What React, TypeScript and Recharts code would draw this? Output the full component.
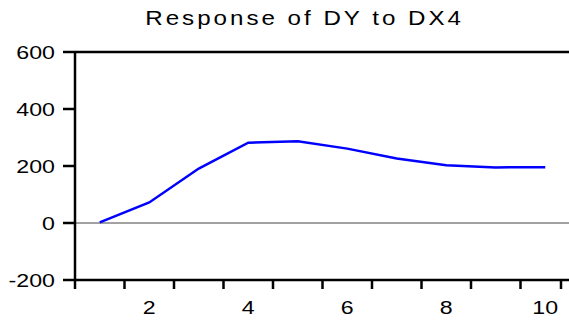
import { LineChart, Line, XAxis, YAxis, ReferenceLine } from "recharts";

// impulse response, periods 1..10
const periods = [1, 2, 3, 4, 5, 6, 7, 8, 9, 10];
const response = [2, 72, 191, 282, 287, 261, 226, 203, 195, 196];

const yTicks = [-200, 0, 200, 400, 600];
const boundaryTicks = [0.5, 1.5, 2.5, 3.5, 4.5, 5.5, 6.5, 7.5, 8.5, 9.5, 10.5];
const labelTicks = [2, 4, 6, 8, 10];

const FONT = '"Liberation Sans", Arial, sans-serif';

const YTick = ({ x, y, payload }: any) => (
  <g transform={`translate(${x},${y}) scale(1.22,1)`}>
    <text x={0} y={0} dy="0.36em" textAnchor="end" fontSize={19} fontFamily={FONT} fill="#000">
      {payload.value}
    </text>
  </g>
);

const XTick = ({ x, y, payload }: any) => (
  <g transform={`translate(${x},${y}) scale(1.22,1)`}>
    <text x={0} y={0} dy="0.85em" textAnchor="middle" fontSize={19} fontFamily={FONT} fill="#000">
      {payload.value}
    </text>
  </g>
);

// small vertical mark at the boundary between periods
const MarkTick = ({ x, y }: any) => (
  <line x1={x} x2={x} y1={y} y2={y + 9} stroke="#000" strokeWidth={2.5} />
);

const blackLine = { stroke: "#000", strokeWidth: 2.5 };

export default function App() {
  const data = periods.map((p, i) => ({ period: p, value: response[i] }));

  return (
    <div style={{ position: "absolute", left: 0, top: 0, width: 569, height: 320, overflow: "hidden", background: "#fff" }}>
      <div style={{ position: "absolute", left: 0, top: 6, width: 610, textAlign: "center", fontFamily: FONT, fontSize: 21 }}>
        <span style={{ display: "inline-block", transform: "scaleX(1.15)", letterSpacing: 2.6 }}>
          Response of DY to DX4
        </span>
      </div>
      <LineChart width={575} height={320} data={data} margin={{ top: 52, right: 5, bottom: 0, left: 0 }}>
        <XAxis
          xAxisId="b"
          dataKey="period"
          type="number"
          domain={[0.5, 10.5]}
          ticks={labelTicks}
          tick={<XTick />}
          axisLine={false}
          tickLine={false}
          height={30}
        />
        <XAxis
          xAxisId="a"
          dataKey="period"
          type="number"
          domain={[0.5, 10.5]}
          ticks={boundaryTicks}
          tick={<MarkTick />}
          tickLine={false}
          tickSize={0}
          tickMargin={0}
          height={10}
          stroke="#000"
          axisLine={blackLine}
        />
        <YAxis
          domain={[-200, 600]}
          ticks={yTicks}
          width={75}
          tickSize={12}
          tickMargin={8}
          tick={<YTick />}
          stroke="#000"
          axisLine={blackLine}
          tickLine={blackLine}
        />
        <ReferenceLine xAxisId="b" y={600} stroke="#000" strokeWidth={2.5} />
        <ReferenceLine xAxisId="b" y={0} stroke="#444" strokeWidth={1} />
        <Line
          xAxisId="b"
          type="linear"
          dataKey="value"
          stroke="#0000ff"
          strokeWidth={2.5}
          dot={false}
          isAnimationActive={false}
        />
      </LineChart>
    </div>
  );
}
